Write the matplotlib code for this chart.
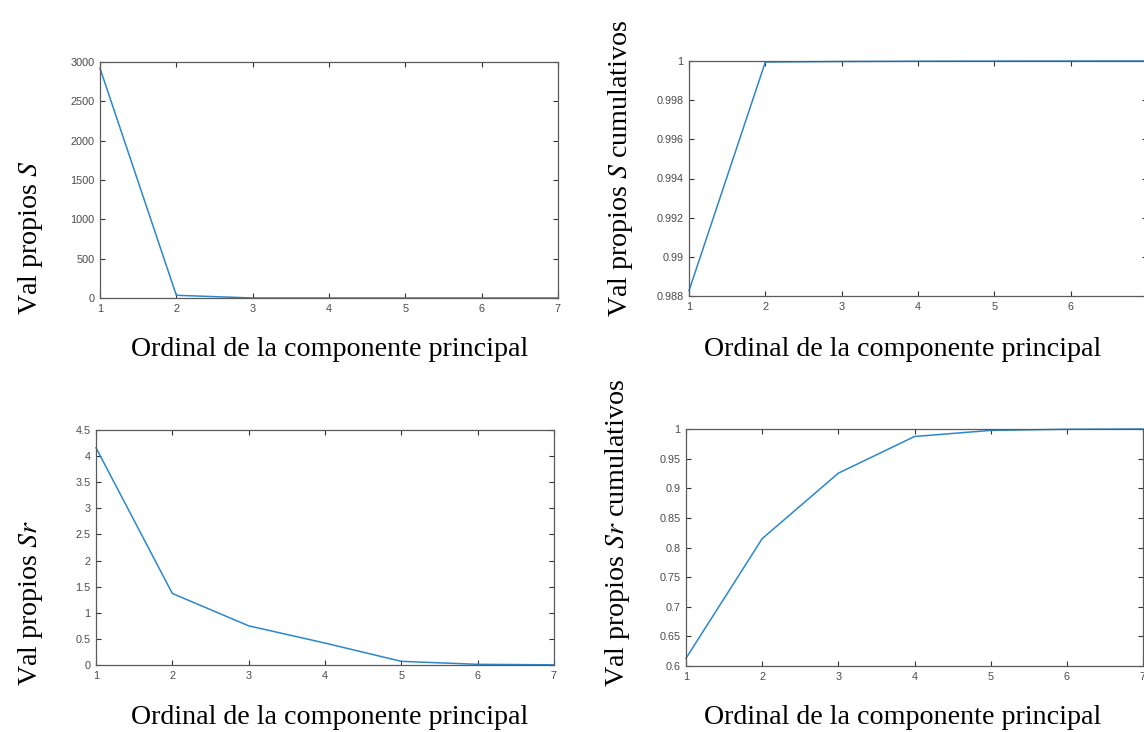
import numpy as np
import matplotlib
matplotlib.use("Agg")
import matplotlib.pyplot as plt

# ── Data ───────────────────────────────────────────────────────────────────────
components = [1, 2, 3, 4, 5, 6, 7]
eig_S  = [2920, 34.5, 0.08, 0.04, 0.02, 0.01, 0.005]
eig_Sr = [4.16, 1.37, 0.75, 0.42, 0.07, 0.013, 0.003]

cum_S  = np.cumsum(eig_S) / np.sum(eig_S)
cum_Sr = np.cumsum(eig_Sr) / np.sum(eig_Sr)

yticks_S     = [0, 500, 1000, 1500, 2000, 2500, 3000]
yticks_cumS  = [0.988, 0.99, 0.992, 0.994, 0.996, 0.998, 1]
yticks_Sr    = [0, 0.5, 1, 1.5, 2, 2.5, 3, 3.5, 4, 4.5]
yticks_cumSr = [0.6, 0.65, 0.7, 0.75, 0.8, 0.85, 0.9, 0.95, 1]

XLABEL = "Ordinal de la componente principal"

# ── Style ──────────────────────────────────────────────────────────────────────
plt.rcParams["mathtext.fontset"] = "stix"
LINE_C  = "#2b87cc"
AXIS_C  = "#5a5a5a"
TICK_C  = "#4a4a4a"
W, H = 1144, 732

fig = plt.figure(figsize=(W / 100, H / 100), dpi=100)


def add_axes(left, right, top, bottom):
    return fig.add_axes([left / W, 1 - bottom / H, (right - left) / W, (bottom - top) / H])


def style(ax, ylim, yticks, hide_last_x=False):
    ax.set_xlim(1, 7)
    ax.set_xticks(components)
    xlabels = [str(c) for c in components]
    if hide_last_x:
        xlabels[-1] = ""  # falls outside the cropped reference
    ax.set_xticklabels(xlabels)
    ax.set_ylim(*ylim)
    ax.set_yticks(yticks)
    ax.set_yticklabels([f"{t:g}" for t in yticks])
    ax.tick_params(direction="in", length=3.5, width=0.8, color="#333333",
                   top=True, right=True, labelsize=7.8, labelcolor=TICK_C, pad=4)
    for lbl in ax.get_xticklabels() + ax.get_yticklabels():
        lbl.set_family("Liberation Sans")
    for sp in ax.spines.values():
        sp.set_color(AXIS_C)
        sp.set_linewidth(0.9)


panels = [
    # (left, right, top, bottom), y data, ylim, yticks, hide last x label
    ((100, 558, 62, 298),   eig_S,  (0, 3000),  yticks_S,     False),
    ((689, 1147, 61, 296),  cum_S,  (0.988, 1), yticks_cumS,  True),
    ((96, 554, 430, 665),   eig_Sr, (0, 4.5),   yticks_Sr,    False),
    ((686, 1143, 429, 666), cum_Sr, (0.6, 1),   yticks_cumSr, False),
]

for box, ydata, ylim, yticks, hide in panels:
    ax = add_axes(*box)
    ax.plot(components, ydata, color=LINE_C, lw=1.1, clip_on=False)
    style(ax, ylim, yticks, hide)

# ── Axis titles (placed in pixels, as in the composed reference) ─────────────
label_kw = dict(family="Liberation Serif", fontsize=20.2, color="black")

for cx, by in [(330, 356), (903, 356), (330, 724), (903, 724)]:
    fig.text(cx / W, 1 - by / H, XLABEL, ha="center", va="baseline", **label_kw)

ylabels = [
    (37, 315, r"Val propios $S$"),
    (627, 317, r"Val propios $S$ cumulativos"),
    (37, 686, r"Val propios $Sr$"),
    (624, 687, r"Val propios $Sr$ cumulativos"),
]
for bx, sy, txt in ylabels:
    fig.text(bx / W, 1 - sy / H, txt, rotation=90, rotation_mode="anchor",
             ha="left", va="baseline", **label_kw)

fig.savefig("out.png", dpi=100)
